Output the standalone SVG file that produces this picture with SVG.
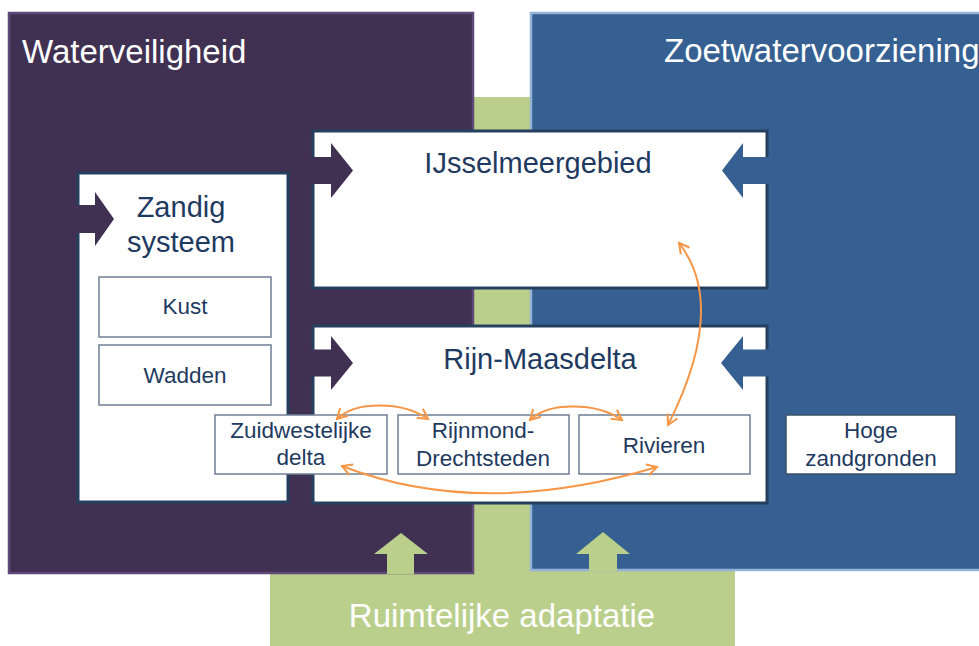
<svg xmlns="http://www.w3.org/2000/svg" width="979" height="646" viewBox="0 0 979 646">
<defs>
<style>
.title{font-family:"Liberation Sans",Arial,sans-serif;font-size:33px;fill:#ffffff}
.big{fill:#ffffff;stroke:#25405f;stroke-width:3}
.small{fill:#ffffff;stroke:#6f7f96;stroke-width:1.5}
.lbl{font-family:"Liberation Sans",Arial,sans-serif;fill:#1f3a5f;text-anchor:middle}
.l28{font-size:29px}
.l22{font-size:22.5px}
.conn{fill:none;stroke:#f79646;stroke-width:2;marker-start:url(#oa);marker-end:url(#oa)}
</style>
<marker id="oa" viewBox="0 0 14 14" markerWidth="14" markerHeight="14" refX="12" refY="7" orient="auto-start-reverse" markerUnits="userSpaceOnUse">
<path d="M2,1.5 L12,7 L2,12.5" fill="none" stroke="#f79646" stroke-width="2"/>
</marker>
</defs>

<g id="ruimtelijke-adaptatie">
<rect x="270" y="97" width="465" height="549" fill="#b9cf8b"/>
</g>
<g id="waterveiligheid">
<rect x="9" y="13" width="464" height="560" fill="#403152" stroke="#5f497a" stroke-width="2.5"/>
<text class="title" x="22" y="63">Waterveiligheid</text>
</g>
<g id="zoetwatervoorziening">
<rect x="531" y="13" width="460" height="557" fill="#366092" stroke="#95b3d7" stroke-width="2.5"/>
<text class="title" x="664" y="62">Zoetwatervoorziening</text>
</g>
<g id="ra-label">
<text class="title" x="502" y="627" text-anchor="middle">Ruimtelijke adaptatie</text>
<path d="M387,574 V554 H374 L401,533 L428,554 H414 V574 Z" fill="#b9cf8b"/>
<path d="M589,571 V554 H576 L603,532 L630,554 H617 V571 Z" fill="#b9cf8b"/>
</g>

<g id="zandig-systeem">
<rect class="big" x="78" y="173" width="210" height="329"/>
<path d="M76,205 H95 V192 L114,219 L95,246 V233 H76 Z" fill="#403152"/>
<text class="lbl l28" x="181" y="217">Zandig</text>
<text class="lbl l28" x="181" y="252">systeem</text>
</g>
<g id="kust">
<rect class="small" x="99" y="277" width="172" height="60"/>
<text class="lbl l22" x="185" y="314">Kust</text>
</g>
<g id="wadden">
<rect class="small" x="99" y="345" width="172" height="60"/>
<text class="lbl l22" x="185" y="383">Wadden</text>
</g>

<g id="ijsselmeergebied">
<rect class="big" x="313" y="131" width="454" height="157"/>
<path d="M311,157 H331 V143 L353,170.5 L331,198 V184 H311 Z" fill="#403152"/>
<path d="M769,157 H743 V143 L722,170.5 L743,198 V184 H769 Z" fill="#366092"/>
<text class="lbl l28" x="538" y="173">IJsselmeergebied</text>
</g>
<g id="rijn-maasdelta">
<rect class="big" x="313" y="326" width="454" height="177"/>
<path d="M311,349.5 H331 V336 L353,363 L331,390 V376.5 H311 Z" fill="#403152"/>
<path d="M769,349.5 H743 V336 L721,363 L743,390 V376.5 H769 Z" fill="#366092"/>
<text class="lbl l28" x="540" y="369">Rijn-Maasdelta</text>
</g>
<g id="zuidwestelijke-delta">
<rect class="small" x="215" y="415" width="172" height="59"/>
<text class="lbl l22" x="301" y="438">Zuidwestelijke</text>
<text class="lbl l22" x="301" y="465">delta</text>
</g>
<g id="rijnmond-drechtsteden">
<rect class="small" x="398" y="415" width="171" height="59"/>
<text class="lbl l22" x="483" y="438">Rijnmond-</text>
<text class="lbl l22" x="483" y="466">Drechtsteden</text>
</g>
<g id="rivieren">
<rect class="small" x="579" y="415" width="171" height="59"/>
<text class="lbl l22" x="664" y="453">Rivieren</text>
</g>
<g id="hoge-zandgronden">
<rect x="786" y="415" width="170" height="59" fill="#ffffff" stroke="#3d4f66" stroke-width="1.5"/>
<text class="lbl l22" x="871" y="438">Hoge</text>
<text class="lbl l22" x="871" y="466">zandgronden</text>
</g>

<g id="connectors">
<path class="conn" d="M337,419 C355,401 402,401 428,419"/>
<path class="conn" d="M530,420 C548,402 596,402 622,420"/>
<path class="conn" d="M342,466 Q480,520 657,467"/>
<path class="conn" d="M679,243 Q728,306 668,425"/>
</g>
</svg>
